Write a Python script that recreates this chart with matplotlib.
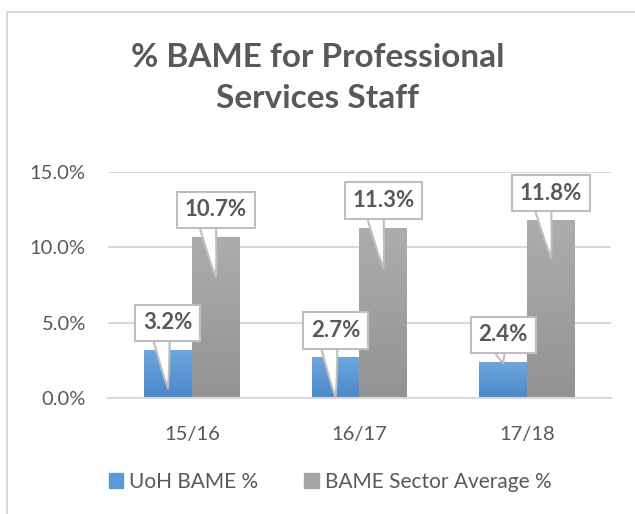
import matplotlib
matplotlib.use("Agg")
import matplotlib.pyplot as plt
from matplotlib.patches import Rectangle, Patch
from matplotlib.colors import LinearSegmentedColormap
import matplotlib.transforms as mtransforms
import numpy as np

categories = ["15/16", "16/17", "17/18"]
uoh = [3.2, 2.7, 2.4]
sector = [10.7, 11.3, 11.8]
series_names = ["UoH BAME %", "BAME Sector Average %"]
yticks = [0, 5, 10, 15]
title = "% BAME for Professional\nServices Staff"
# callout pointer depth below bar top (styling)
uoh_tip_depth = [2.55, 2.65, 0.1]
sector_tip_depth = [2.7, 2.7, 2.5]

plt.rcParams['font.family'] = ['Lato', 'DejaVu Sans']
TXT = "#595959"
BLUE = "#5B9BD5"
GRAY = "#A5A5A5"
GRID = "#D9D9D9"

fig = plt.figure(figsize=(6.35, 5.14), dpi=100)
fig.patches.append(Rectangle((7/635, -0.1), 1.2, (514-12)/514 + 0.1, transform=fig.transFigure,
                             fill=False, ec=GRID, lw=1.5))
ax = fig.add_axes([108/635, 116/514, 503/635, 226/514])

x = np.arange(len(categories))
w = 0.286
b1 = ax.bar(x - w/2, uoh, w, color=BLUE, zorder=2)
b2 = ax.bar(x + w/2, sector, w, color=GRAY, zorder=2)

grad = np.linspace(0, 1, 256).reshape(-1, 1)
cm_blue = LinearSegmentedColormap.from_list("b", ["#4A88CB", "#6EA7DD"])
cm_gray = LinearSegmentedColormap.from_list("g", ["#939393", "#ADADAD"])
for bars, cm in [(b1, cm_blue), (b2, cm_gray)]:
    for bar in bars:
        x0, y0 = bar.get_x(), bar.get_y()
        bw, bh = bar.get_width(), bar.get_height()
        im = ax.imshow(grad, extent=[x0, x0 + bw, y0, y0 + bh], origin='lower',
                       aspect='auto', cmap=cm, zorder=2.5)
        im.set_clip_path(bar)

ax.set_xlim(-0.5, len(categories) - 0.5)
ax.set_ylim(0, 15)
ax.set_yticks(yticks)
ax.set_yticklabels([f"{t:.1f}%" for t in yticks], fontsize=14.5, color=TXT)
ax.set_xticks(x)
ax.set_xticklabels(categories, fontsize=14.5, color=TXT)
ax.tick_params(length=0)
ax.tick_params(axis='y', pad=16)
ax.tick_params(axis='x', pad=20)
for s in ["top", "right", "left"]:
    ax.spines[s].set_visible(False)
ax.spines["bottom"].set_color(GRID)
ax.spines["bottom"].set_linewidth(1.5)
ax.spines["bottom"].set_zorder(3)
ax.grid(axis='y', color=GRID, lw=1.5, zorder=0)
ax.set_axisbelow(True)

box_tr = mtransforms.offset_copy(ax.transData, fig=fig, x=0, y=27, units='dots')
for xs, vals, depths in [(x - w/2, uoh, uoh_tip_depth), (x + w/2, sector, sector_tip_depth)]:
    for xi, v, d in zip(xs, vals, depths):
        ax.annotate(f"{v:.1f}%", xy=(xi, v - d), xytext=(xi, v), textcoords=box_tr,
                    ha='center', va='center', fontsize=16, fontweight='bold', color=TXT,
                    bbox=dict(boxstyle="square,pad=0.35", fc="white", ec="#BFBFBF", lw=1.5),
                    arrowprops=dict(arrowstyle="wedge,tail_width=0.9,shrink_factor=0.6",
                                    fc="white", ec="#BFBFBF", lw=1.5, relpos=(0.33, 0.5),
                                    patchA=None, shrinkA=0, shrinkB=0),
                    annotation_clip=False, zorder=5)

fig.text(318/635, 1 - 78/514, title, ha='center', va='center', fontsize=24, fontweight='bold',
         color=TXT, linespacing=1.52)

handles = [Patch(color=BLUE), Patch(color=GRAY)]
fig.legend(handles, series_names, loc='center', bbox_to_anchor=(0.52, 1 - 482/514), ncol=2,
           frameon=False, fontsize=15, labelcolor=TXT, handlelength=0.7, handleheight=0.7,
           handletextpad=0.3, columnspacing=2.2)

fig.savefig("out.png", dpi=100)
